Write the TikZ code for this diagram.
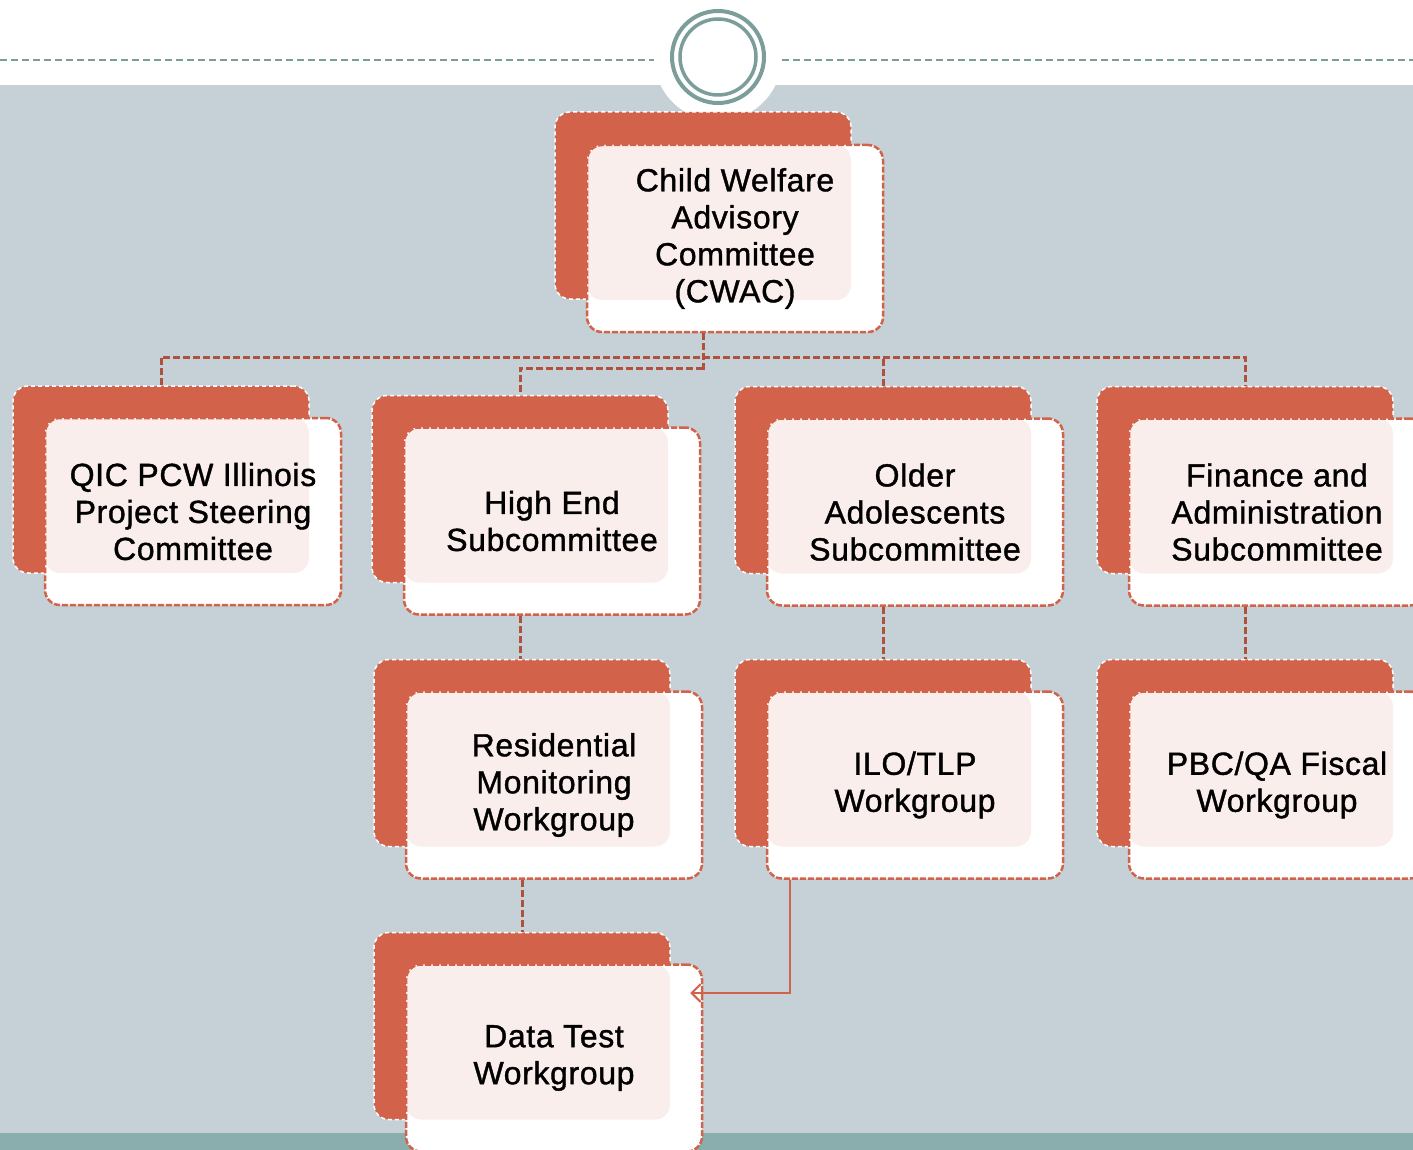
\documentclass[tikz,border=0pt]{standalone}
\usepackage{fontspec}
\usetikzlibrary{positioning,arrows.meta}
\newfontfamily\boxfont[LetterSpace=2,FakeBold=1.2]{Liberation Sans}
\definecolor{boxorange}{HTML}{D2634A}
\definecolor{linkorange}{HTML}{B0513D}
\definecolor{boxpink}{HTML}{F9EEEC}
\definecolor{paneblue}{HTML}{C5D1D7}
\definecolor{stripteal}{HTML}{8AADAD}
\definecolor{ringteal}{HTML}{7C9E9B}

\begin{document}
\begin{tikzpicture}[x=1pt,y=-1pt,
 backbox/.style={draw=white,line width=1.5pt,dash pattern=on 4pt off 3pt,fill=boxorange,
   rounded corners=15pt,minimum width=296pt,minimum height=187pt},
 frontbox/.style={draw=boxorange,line width=2.5pt,dash pattern=on 6pt off 2pt,fill=white,
   rounded corners=15pt,minimum width=296pt,minimum height=187pt,align=center,
   font=\boxfont\fontsize{32}{37}\selectfont,
   path picture={\fill[boxpink,rounded corners=15pt] (path picture bounding box.north west)
     rectangle ([xshift=-32pt,yshift=32pt]path picture bounding box.south east);}},
 link/.style={draw=linkorange,line width=3pt,dash pattern=on 7pt off 3pt},
 arrowlink/.style={draw=boxorange,line width=2pt,-{Straight Barb[length=9pt,width=18pt]}},
 topline/.style={draw=ringteal,line width=2pt,dash pattern=on 7pt off 4pt}]
\clip (0,0) rectangle (1413,1150);

% panel and logo
\fill[paneblue] (0,85) rectangle (1413,1133);
\fill[stripteal] (0,1133) rectangle (1413,1150);
\node[circle,fill=white,minimum size=128pt,inner sep=0pt] (logobg) at (718,57) {};
\node[circle,draw=ringteal,line width=4pt,minimum size=92pt,inner sep=0pt] (ringout) at (logobg) {};
\node[circle,draw=ringteal,line width=3.5pt,minimum size=76pt,inner sep=0pt] (ringin) at (logobg) {};
\draw[topline] (0,60) -- (logobg.west |- 0,60);
\draw[topline] (logobg.east |- 0,60) -- (1413,60);

% boxes
\node[backbox] (cwacb) at (703,205.5) {};
\node[frontbox] (cwac) at ([xshift=32pt,yshift=-33pt]cwacb) {Child Welfare\\Advisory\\Committee\\(CWAC)};

\node[backbox] (qicb) at (161,479.5) {};
\node[frontbox] (qic) at ([xshift=32pt,yshift=-32pt]qicb) {QIC PCW Illinois\\Project Steering\\Committee};

\node[backbox] (highb) at (520,489) {};
\node[frontbox] (high) at ([xshift=32pt,yshift=-32pt]highb) {High End\\Subcommittee};

\node[backbox] (olderb) at (883,480) {};
\node[frontbox] (older) at ([xshift=32pt,yshift=-32pt]olderb) {Older\\Adolescents\\Subcommittee};

\node[backbox] (financeb) at (1245,480) {};
\node[frontbox] (finance) at ([xshift=32pt,yshift=-32pt]financeb) {Finance and\\Administration\\Subcommittee};

\node[backbox] (residb) at (522,753) {};
\node[frontbox] (resid) at ([xshift=32pt,yshift=-32pt]residb) {Residential\\Monitoring\\Workgroup};

\node[backbox] (ilob) at (883,753) {};
\node[frontbox] (ilo) at ([xshift=32pt,yshift=-32pt]ilob) {ILO/TLP\\Workgroup};

\node[backbox] (pbcb) at (1245,753) {};
\node[frontbox] (pbc) at ([xshift=32pt,yshift=-32pt]pbcb) {PBC/QA Fiscal\\Workgroup};

\node[backbox] (datab) at (522,1026) {};
\node[frontbox] (data) at ([xshift=32pt,yshift=-32pt]datab) {Data Test\\Workgroup};

% links
\draw[link] (cwacb |- cwac.south) -- ++(0,38);
\draw[link] (qicb.north) -- ++(0,-28) -| (financeb.north);
\draw[link] (olderb.north) -- ++(0,-28);
\draw[link] (cwacb |- 0,368) -| (highb.north);
\draw[link] (highb |- high.south) -- (highb |- residb.north);
\draw[link] (olderb |- older.south) -- (ilob.north);
\draw[link] (financeb |- finance.south) -- (pbcb.north);
\draw[link] (residb |- resid.south) -- (datab.north);
\draw[arrowlink] ([xshift=24pt]ilo.south west) |- ([xshift=-13pt,yshift=65pt]data.east);
\end{tikzpicture}
\end{document}
